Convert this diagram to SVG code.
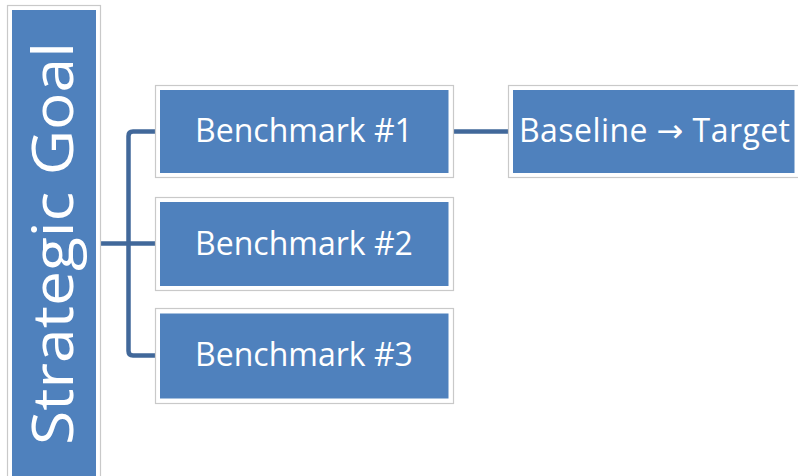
<svg xmlns="http://www.w3.org/2000/svg" width="798" height="476" viewBox="0 0 798 476">
<style>
.frame{fill:#ffffff;stroke:#c9c9c9;stroke-width:1.2}
.box{fill:#4f81bd}
.lbl{fill:#ffffff;font-family:"Open Sans","Noto Sans","DejaVu Sans",sans-serif;font-size:32px;text-anchor:middle}
.arr{font-family:"DejaVu Sans",sans-serif}
.conn{fill:none;stroke:#41689a;stroke-width:4.5;stroke-linejoin:round}
</style>
<rect width="798" height="476" fill="#ffffff"/>
<g id="connectors">
<path class="conn" d="M155,131.5 H133 Q128.5,131.5 128.5,136 V351 Q128.5,355.5 133,355.5 H155"/>
<path class="conn" d="M101,243.5 H155"/>
<path class="conn" d="M454,131.5 H508"/>
</g>
<g id="strategic-goal">
<rect class="frame" x="7.5" y="5.5" width="93" height="480"/>
<rect class="box" x="12" y="10" width="84" height="476"/>
<text class="lbl" transform="translate(73,243.5) rotate(-90)" x="0" y="0" style="font-size:56px" textLength="403" lengthAdjust="spacingAndGlyphs">Strategic Goal</text>
</g>
<g id="benchmark-1">
<rect class="frame" x="155.5" y="85.5" width="298" height="92"/>
<rect class="box" x="160" y="90" width="288.5" height="83"/>
<text class="lbl" x="304" y="142">Benchmark #1</text>
</g>
<g id="benchmark-2">
<rect class="frame" x="155.5" y="197.5" width="298" height="93"/>
<rect class="box" x="160" y="202" width="288.5" height="84"/>
<text class="lbl" x="304" y="254.5">Benchmark #2</text>
</g>
<g id="benchmark-3">
<rect class="frame" x="155.5" y="308.5" width="298" height="95"/>
<rect class="box" x="160" y="313.5" width="288.5" height="85"/>
<text class="lbl" x="304" y="366">Benchmark #3</text>
</g>
<g id="baseline-target">
<rect class="frame" x="508.5" y="85.5" width="295" height="92"/>
<rect class="box" x="513" y="90" width="281.5" height="83"/>
<text class="lbl" x="654.5" y="142" textLength="271" lengthAdjust="spacing">Baseline <tspan class="arr">→</tspan> Target</text>
</g>
</svg>
